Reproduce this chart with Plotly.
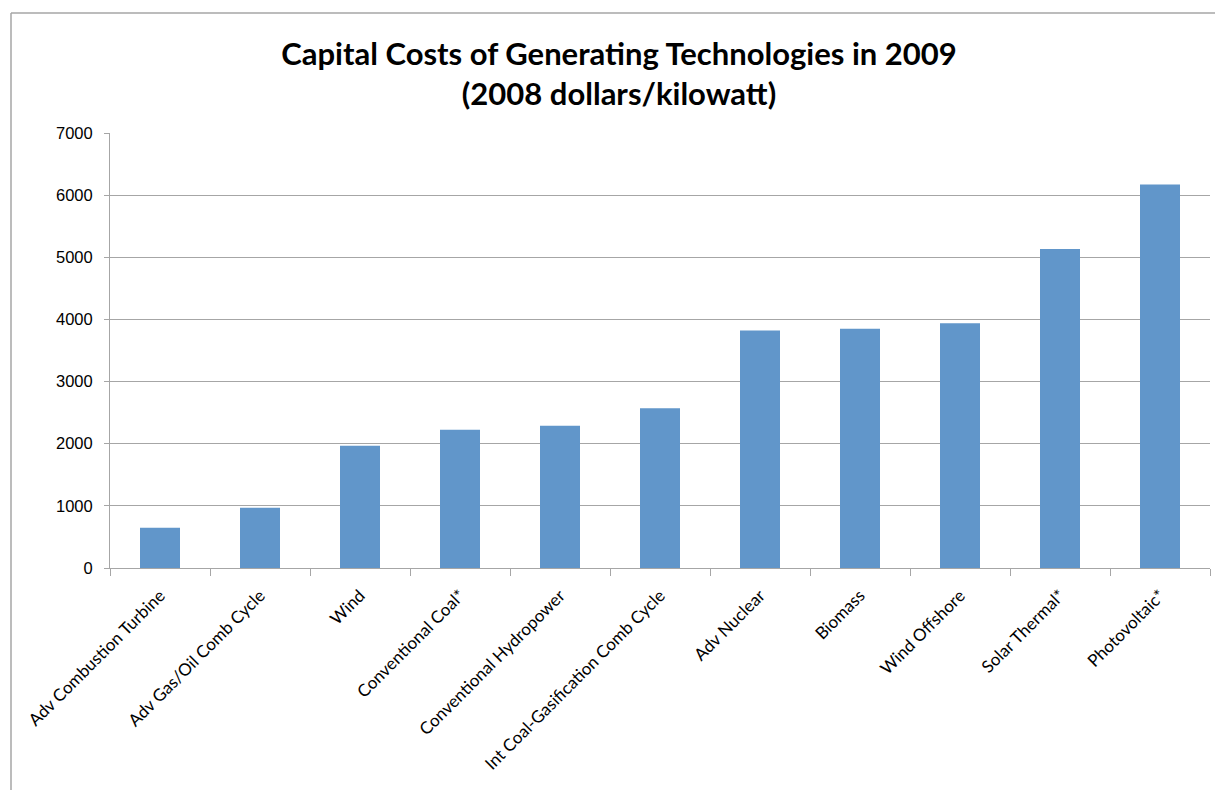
import plotly.graph_objects as go

categories = ["Adv Combustion Turbine", "Adv Gas/Oil Comb Cycle", "Wind", "Conventional Coal*",
              "Conventional Hydropower", "Int Coal-Gasification Comb Cycle", "Adv Nuclear",
              "Biomass", "Wind Offshore", "Solar Thermal*", "Photovoltaic*"]
values = [648, 968, 1966, 2223, 2291, 2569, 3820, 3849, 3937, 5132, 6171]
y_ticks = [0, 1000, 2000, 3000, 4000, 5000, 6000, 7000]

W, H = 1215, 790
L, R, T, B = 110, 1210, 133, 568

def px_x(p):
    return (p - L) / (R - L)

def px_y(p):
    return (B - p) / (B - T)

fig = go.Figure(go.Bar(x=categories, y=values, marker=dict(color="#6196CA", line=dict(width=0)),
                       width=0.4))

fig.update_layout(
    width=W, height=H,
    margin=dict(l=L, r=W - R, t=T, b=H - B, autoexpand=False),
    paper_bgcolor="white", plot_bgcolor="white",
    showlegend=False,
    font=dict(family="Lato, Open Sans, sans-serif", color="#000"),
    title=dict(text="<b>Capital Costs of Generating Technologies in 2009<br>(2008 dollars/kilowatt)</b>",
               x=619 / W, xanchor="center", y=1 - 65 / H, yanchor="middle",
               font=dict(size=31, family="Lato, Open Sans, sans-serif", color="#000")),
    bargap=0.6,
)
fig.update_yaxes(range=[0, 7000], tickvals=y_ticks, showgrid=True, gridcolor="#A6A6A6", gridwidth=1,
                 showline=True, linecolor="#A6A6A6", linewidth=1,
                 ticks="outside", ticklen=5, tickcolor="#A6A6A6", ticklabelstandoff=8,
                 tickfont=dict(family="Liberation Sans, Arial, sans-serif", size=16.5, color="#000"),
                 zeroline=False)
fig.update_xaxes(showline=True, linecolor="#A6A6A6", linewidth=1, tickson="boundaries",
                 ticks="outside", ticklen=7, tickcolor="#A6A6A6", tickangle=-45, ticklabelstandoff=10,
                 tickfont=dict(family="Lato, Open Sans, sans-serif", size=17, color="#000"))

# outer chart border (top and left visible)
fig.add_shape(type="line", xref="paper", yref="paper", x0=px_x(11), x1=px_x(1215), y0=px_y(13), y1=px_y(13),
              line=dict(color="#A6A6A6", width=1.5))
fig.add_shape(type="line", xref="paper", yref="paper", x0=px_x(11), x1=px_x(11), y0=px_y(13), y1=px_y(790),
              line=dict(color="#A6A6A6", width=1.5))

fig.write_html("out.html")
